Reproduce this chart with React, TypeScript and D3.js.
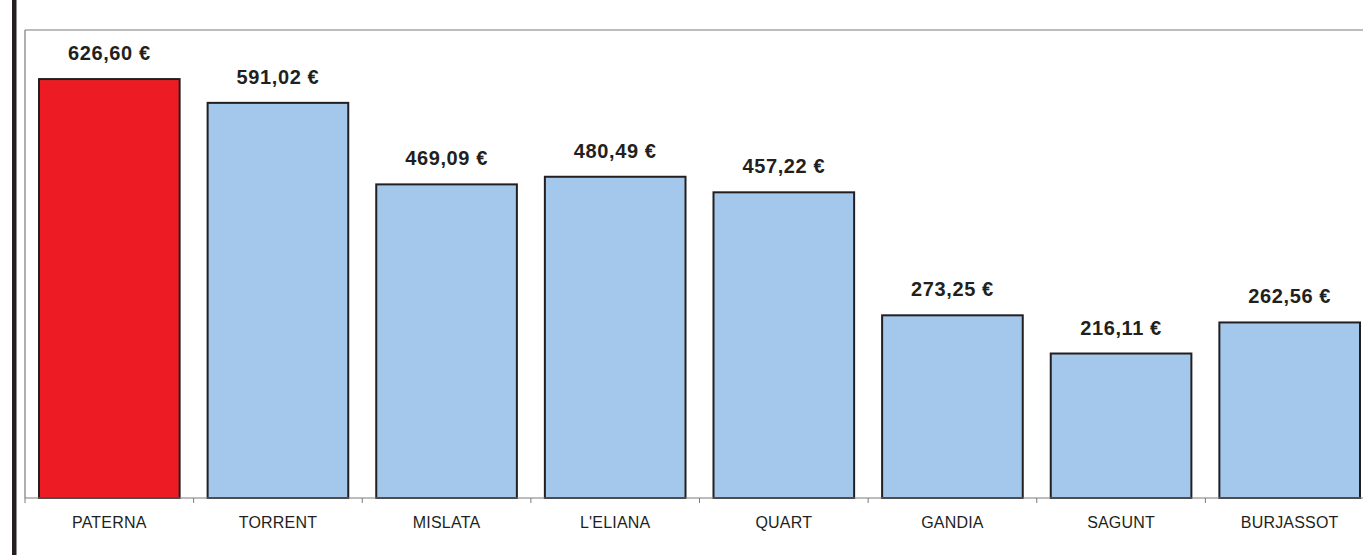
import React from "react";
import * as d3 from "d3";

const categories = ["PATERNA", "TORRENT", "MISLATA", "L'ELIANA", "QUART", "GANDIA", "SAGUNT", "BURJASSOT"];
const values = [626.6, 591.02, 469.09, 480.49, 457.22, 273.25, 216.11, 262.56];
const highlight = ["PATERNA"];
const yDomain = [0, 700];

const W = 1363;
const H = 555;
const left = 25;
const top = 30;
const bottom = 498;
const right = 1374;

const fmt = (v: number) => v.toFixed(2).replace(".", ",") + " €";

export default function App() {
  const x = d3.scaleBand<string>().domain(categories).range([left, right]).paddingInner(0.166).paddingOuter(0.083);
  const y = d3.scaleLinear().domain(yDomain).range([bottom, top]);
  const step = x.step();
  const font = "Liberation Sans, Arial, Helvetica, sans-serif";
  return (
    <svg width={W} height={H} style={{ position: "absolute", left: 0, top: 0, background: "#fff" }}>
      <rect x={0} y={0} width={W} height={H} fill="#fff" />
      <rect x={12} y={0} width={4.5} height={H} fill="#231f20" />
      <line x1={left} y1={top} x2={W} y2={top} stroke="#7a7a7a" strokeWidth={1.2} />
      <line x1={left} y1={top} x2={left} y2={bottom} stroke="#7a7a7a" strokeWidth={1.2} />
      {categories.map((c, i) => {
        const v = values[i];
        const bx = x(c)!;
        const by = y(v);
        return (
          <g key={c}>
            <rect
              x={bx}
              y={by}
              width={x.bandwidth()}
              height={bottom - by}
              fill={highlight.includes(c) ? "#ed1c24" : "#a3c8eb"}
              stroke="#231f20"
              strokeWidth={2}
            />
            <text
              x={bx + x.bandwidth() / 2}
              y={by - 19}
              textAnchor="middle"
              fontFamily={font}
              fontWeight="bold"
              fontSize={20}
              letterSpacing={0.6}
              fill="#231f20"
            >
              {fmt(v)}
            </text>
            <text
              x={bx + x.bandwidth() / 2}
              y={528}
              textAnchor="middle"
              fontFamily={font}
              fontSize={16}
              letterSpacing={0.2}
              fill="#231f20"
            >
              {c}
            </text>
          </g>
        );
      })}
      <line x1={left} y1={bottom} x2={W} y2={bottom} stroke="#7a7a7a" strokeWidth={1.2} />
      {d3.range(categories.length + 1).map((i) => (
        <line key={i} x1={left + i * step} y1={bottom} x2={left + i * step} y2={bottom + 5} stroke="#7a7a7a" strokeWidth={1} />
      ))}
    </svg>
  );
}
